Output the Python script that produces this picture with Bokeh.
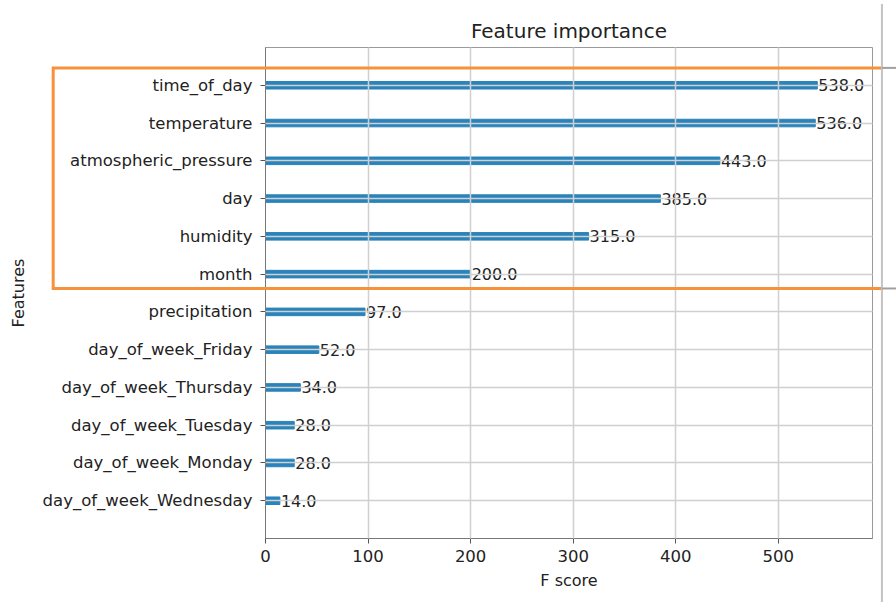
from bokeh.plotting import figure
from bokeh.models import Range1d, FixedTicker, ColumnDataSource
from bokeh.core.properties import value
from bokeh.embed import file_html
from bokeh.resources import INLINE

# ---- data ----
features = [
    "day_of_week_Wednesday",
    "day_of_week_Monday",
    "day_of_week_Tuesday",
    "day_of_week_Thursday",
    "day_of_week_Friday",
    "precipitation",
    "month",
    "humidity",
    "day",
    "atmospheric_pressure",
    "temperature",
    "time_of_day",
]
scores = [14.0, 28.0, 28.0, 34.0, 52.0, 97.0, 200.0, 315.0, 385.0, 443.0, 536.0, 538.0]
x_ticks = [0, 100, 200, 300, 400, 500]
highlighted = ["month", "humidity", "day", "atmospheric_pressure", "temperature", "time_of_day"]

FONT = "DejaVu Sans"
TXT = "#222222"
n = len(features)
ys = list(range(n))

src = ColumnDataSource(dict(
    y=ys,
    score=scores,
    label=[f"{s:.1f}" for s in scores],
    lx=[s + 1 for s in scores],
))

xmax = max(scores) * 1.1
p = figure(
    width=896, height=602,
    x_range=Range1d(0, xmax), y_range=Range1d(-1, n),
    output_backend="svg", toolbar_location=None,
    title="Feature importance",
    x_axis_label="F score", y_axis_label="Features",
    min_border_left=265, min_border_right=24,
    min_border_top=47, min_border_bottom=64,
)
p.background_fill_color = "white"
p.border_fill_color = "white"
p.outline_line_color = "#9a9a9a"
p.outline_line_width = 1

p.hbar(y="y", right="score", left=0, height=0.2, color="#2a83bb", source=src)
p.text(x="lx", y="y", text="label", source=src,
       text_baseline="middle", text_align="left",
       text_font=value(FONT), text_font_size="16px", text_color=TXT)

# title
p.title.align = "center"
p.title.text_font = FONT
p.title.text_font_size = "20px"
p.title.text_font_style = "normal"
p.title.text_color = TXT

# axes
p.xaxis.ticker = FixedTicker(ticks=x_ticks)
p.yaxis.ticker = FixedTicker(ticks=ys)
p.yaxis.major_label_overrides = {i: f for i, f in enumerate(features)}
for ax in (p.xaxis[0], p.yaxis[0]):
    ax.axis_line_color = "#777777"
    ax.major_tick_line_color = "#555555"
    ax.major_tick_out = 5
    ax.major_tick_in = 0
    ax.minor_tick_line_color = None
    ax.major_label_text_font = FONT
    ax.major_label_text_font_size = "16.5px"
    ax.major_label_text_color = TXT
    ax.axis_label_text_font = FONT
    ax.axis_label_text_font_size = "16px"
    ax.axis_label_text_font_style = "normal"
    ax.axis_label_text_color = TXT
p.yaxis.major_label_standoff = 8
p.xaxis.major_label_standoff = 6
p.yaxis.axis_label_standoff = 12
p.xaxis.axis_label_standoff = 6

# grid drawn over bars like matplotlib
for g in (p.xgrid[0], p.ygrid[0]):
    g.grid_line_color = "#d0d0d0"
    g.grid_line_width = 1.5
    g.level = "guide"
p.xgrid.ticker = FixedTicker(ticks=x_ticks)
p.ygrid.ticker = FixedTicker(ticks=ys)

# orange highlight box around the top features (overlay, not clipped to frame),
# open on the right where it runs under the screenshot edge
hi_idx = [features.index(f) for f in highlighted]
box_top = max(hi_idx) + 0.46
box_bot = min(hi_idx) - 0.38
box_left, box_right = -207, 601
p.line(x=[box_right, box_left, box_left, box_right],
       y=[box_top, box_top, box_bot, box_bot],
       line_color="#f7913d", line_width=3, line_join="miter", level="overlay")
# thin grey border seen at right edge of the screenshot, with grey stubs beyond it
p.segment(x0=[box_right], y0=[-3], x1=[box_right], y1=[13.15],
          line_color="#c4c4c4", line_width=2, level="overlay")
p.segment(x0=[box_right, box_right], y0=[box_top, box_bot],
          x1=[box_right + 20, box_right + 20], y1=[box_top, box_bot],
          line_color="#a0a0a0", line_width=2, level="overlay")

open("out.html", "w").write(file_html(p, INLINE))
